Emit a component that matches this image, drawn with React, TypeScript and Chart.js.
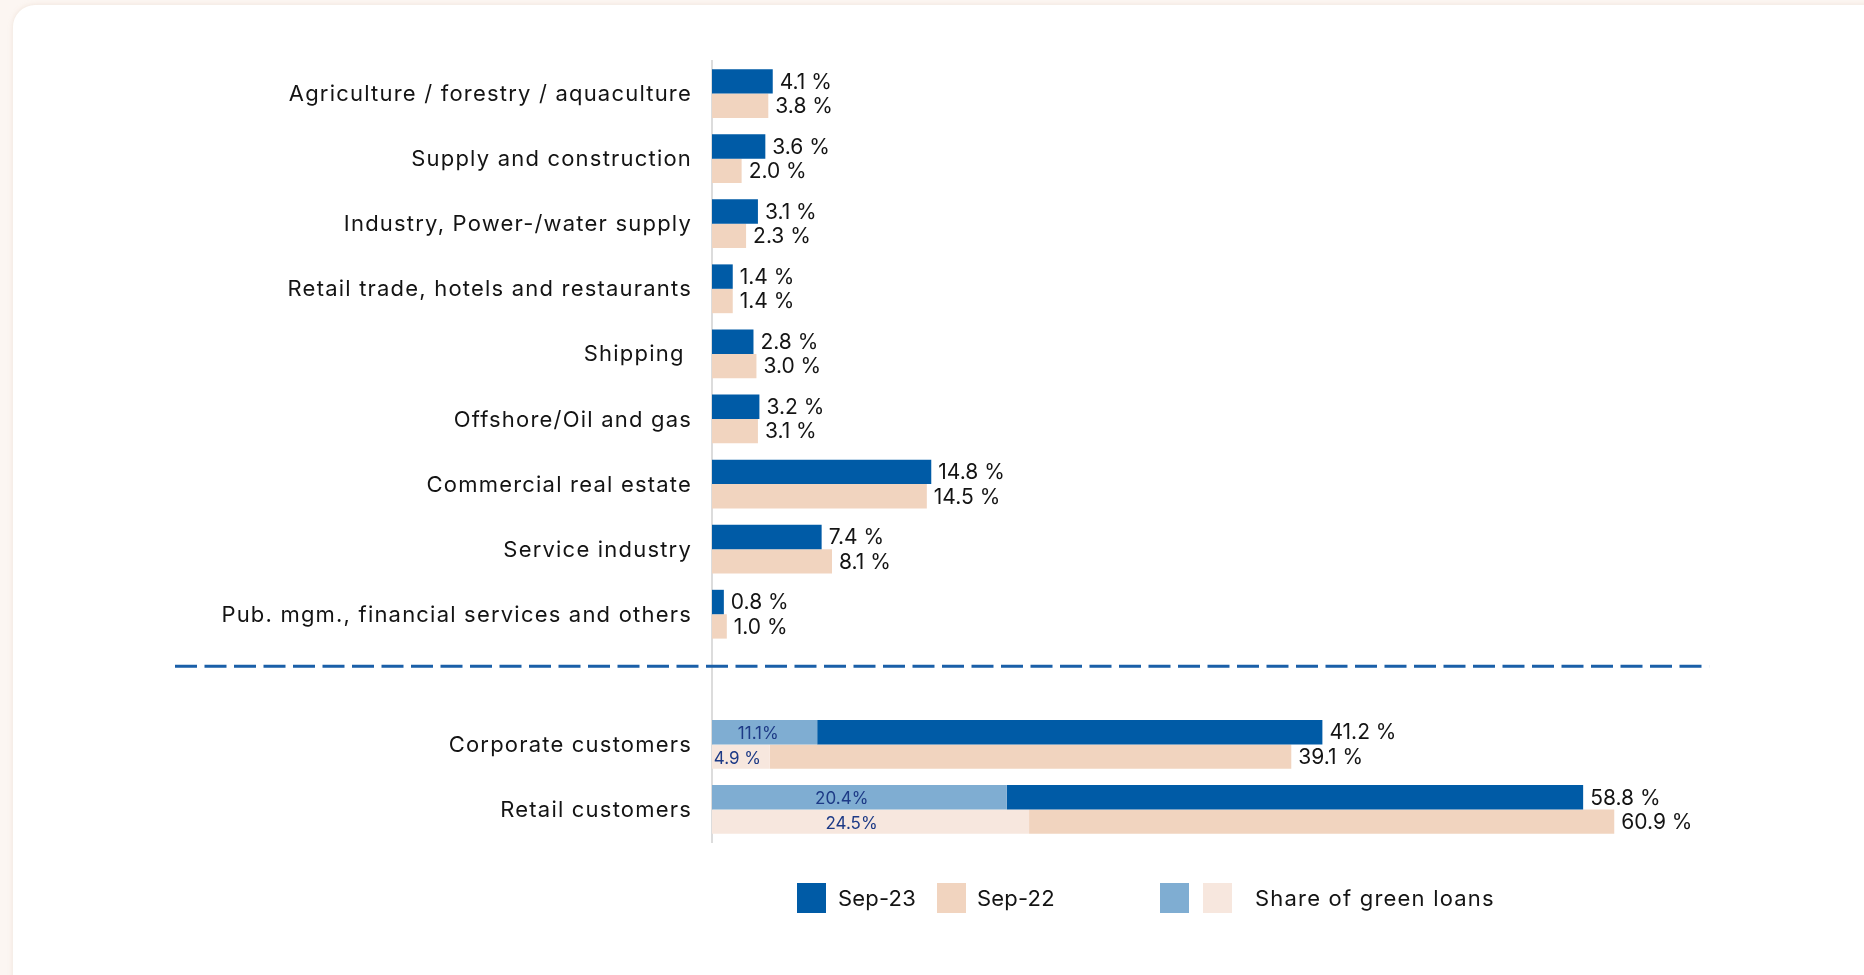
import React, { useEffect, useRef } from "react";
import { Chart, registerables } from "chart.js";

Chart.register(...registerables);

const categories = [
  "Agriculture / forestry / aquaculture",
  "Supply and construction",
  "Industry, Power-/water supply",
  "Retail trade, hotels and restaurants",
  "Shipping ",
  "Offshore/Oil and gas",
  "Commercial real estate",
  "Service industry",
  "Pub. mgm., financial services and others",
  "",
  "Corporate customers",
  "Retail customers",
];

const sep23 = [4.1, 3.6, 3.1, 1.4, 2.8, 3.2, 14.8, 7.4, 0.8, null, 41.2, 58.8];
const sep22 = [3.8, 2.0, 2.3, 1.4, 3.0, 3.1, 14.5, 8.1, 1.0, null, 39.1, 60.9];

// length of the "share of green loans" segment inside each bar
const green23 = [null, null, null, null, null, null, null, null, null, null, 7.1, 19.9];
const green22 = [null, null, null, null, null, null, null, null, null, null, 3.9, 21.4];

const green23Labels = ["", "", "", "", "", "", "", "", "", "", "11.1%", "20.4%"];
const green22Labels = ["", "", "", "", "", "", "", "", "", "", "4.9 %", "24.5%"];

const legendLabels = ["Sep-23", "Sep-22", "Share of green loans"];

const COLORS = {
  blue: "#005ba6",
  peach: "#f1d4bf",
  lightBlue: "#7fadd2",
  lightPeach: "#f7e7de",
  axis: "#dcdcdc",
  text: "#141414",
  greenText: "#1d3a86",
  dash: "#1a5fa8",
};

const FONT = "Inter, 'Noto Sans', sans-serif";
const SPACING = "1.2px";

const rest = (tot: (number | null)[], g: (number | null)[]) =>
  tot.map((v, i) => (v == null ? null : v - (g[i] ?? 0)));

const spacingPlugin = {
  id: "spacing",
  beforeDraw(chart: any) {
    (chart.ctx as any).letterSpacing = SPACING;
  },
  afterDraw(chart: any) {
    (chart.ctx as any).letterSpacing = "0px";
  },
};

const labelPlugin = {
  id: "labels",
  afterDatasetsDraw(chart: any) {
    const ctx = chart.ctx;
    ctx.save();
    (ctx as any).letterSpacing = "0px";
    ctx.textBaseline = "middle";
    // dashed separator
    const ys = chart.scales.y;
    const xs = chart.scales.x;
    const yd = ys.getPixelForValue(8.8);
    ctx.beginPath();
    ctx.setLineDash([22, 7.5]);
    ctx.lineWidth = 3;
    ctx.strokeStyle = COLORS.dash;
    ctx.moveTo(chart.chartArea.left - 537, yd);
    ctx.lineTo(xs.getPixelForValue(67.3), yd);
    ctx.stroke();
    ctx.setLineDash([]);

    // totals
    ctx.font = `21px ${FONT}`;
    ctx.fillStyle = COLORS.text;
    ctx.textAlign = "left";
    const totals: [number, (number | null)[]][] = [
      [1, sep23],
      [3, sep22],
    ];
    totals.forEach(([di, vals]) => {
      const meta = chart.getDatasetMeta(di);
      meta.data.forEach((bar: any, i: number) => {
        const v = vals[i];
        if (v == null) return;
        ctx.fillText(`${v.toFixed(1)} %`, bar.x + 7, bar.y + 1);
      });
    });
    // green labels
    ctx.font = `17px ${FONT}`;
    ctx.fillStyle = COLORS.greenText;
    ctx.textAlign = "center";
    const greens: [number, string[]][] = [
      [0, green23Labels],
      [2, green22Labels],
    ];
    greens.forEach(([di, labs]) => {
      const meta = chart.getDatasetMeta(di);
      meta.data.forEach((bar: any, i: number) => {
        const t = labs[i];
        if (!t) return;
        const { x, base, y } = bar.getProps(["x", "base", "y"], true);
        ctx.fillText(t, base + (x - base) * 0.44, y + 2);
      });
    });
    ctx.restore();
  },
};

export default function App() {
  const ref = useRef<HTMLCanvasElement | null>(null);

  useEffect(() => {
    if (!ref.current) return;
    const chart = new Chart(ref.current, {
      type: "bar",
      data: {
        labels: categories,
        datasets: [
          { label: "green23", data: green23 as any, stack: "s23", backgroundColor: COLORS.lightBlue },
          { label: "Sep-23", data: rest(sep23, green23) as any, stack: "s23", backgroundColor: COLORS.blue },
          { label: "green22", data: green22 as any, stack: "s22", backgroundColor: COLORS.lightPeach },
          { label: "Sep-22", data: rest(sep22, green22) as any, stack: "s22", backgroundColor: COLORS.peach },
        ],
      },
      options: {
        indexAxis: "y",
        responsive: false,
        animation: false,
        devicePixelRatio: 1,
        layout: { padding: { top: 61, bottom: 133, left: 0, right: 189 } },
        datasets: {
          bar: { categoryPercentage: 0.75, barPercentage: 1, borderWidth: 0 },
        },
        plugins: {
          legend: { display: false },
          tooltip: { enabled: false },
        },
        scales: {
          x: { display: false, stacked: true, min: 0, max: 65 },
          y: {
            stacked: true,
            grid: { display: false, drawTicks: false },
            border: { display: true, color: COLORS.axis, width: 2 },
            ticks: { padding: 20, labelOffset: 1, color: COLORS.text, font: { family: FONT, size: 22 } },
            afterFit: (s: any) => {
              s.width = 712;
            },
          },
        },
      } as any,
      plugins: [spacingPlugin, labelPlugin],
    });
    return () => chart.destroy();
  }, []);

  const box = (left: number, color: string) => (
    <div style={{ position: "absolute", left, top: 883, width: 29, height: 30, background: color }} />
  );
  const txt = (left: number, t: string, spacing: string) => (
    <div
      style={{
        position: "absolute",
        left,
        top: 883,
        height: 30,
        lineHeight: "30px",
        fontFamily: FONT,
        fontSize: 22,
        letterSpacing: spacing,
        color: COLORS.text,
        whiteSpace: "nowrap",
      }}
    >
      {t}
    </div>
  );

  return (
    <div style={{ position: "fixed", left: 0, top: 0, width: 1864, height: 975, background: "#fcf6f2", overflow: "hidden" }}>
      <div
        style={{
          position: "absolute",
          left: 13,
          top: 5,
          width: 1900,
          height: 1000,
          background: "#ffffff",
          borderRadius: 22,
          boxShadow: "0 0 5px rgba(215,190,170,0.35)",
        }}
      />
      <canvas ref={ref} width={1864} height={975} style={{ position: "absolute", left: 0, top: 0, width: 1864, height: 975 }} />
      {box(797, COLORS.blue)}
      {txt(838, legendLabels[0], "0.2px")}
      {box(937, COLORS.peach)}
      {txt(977, legendLabels[1], "0.2px")}
      {box(1160, COLORS.lightBlue)}
      {box(1203, COLORS.lightPeach)}
      {txt(1255, legendLabels[2], SPACING)}
    </div>
  );
}
